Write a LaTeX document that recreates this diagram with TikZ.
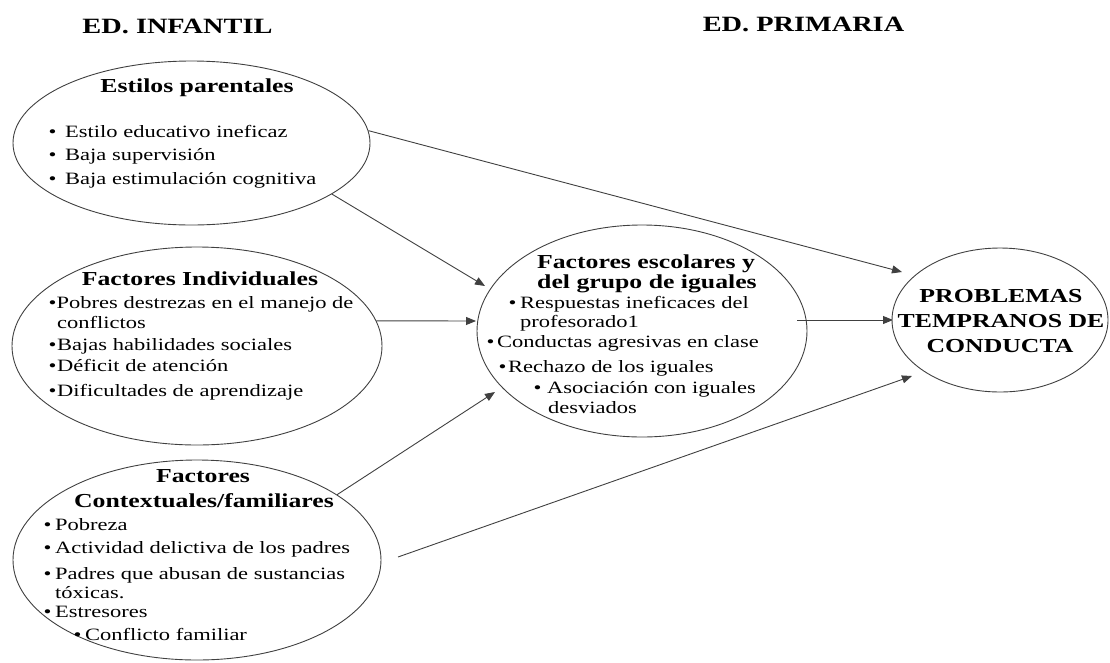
\documentclass[tikz,border=0pt]{standalone}
\usepackage{fontspec}
\setmainfont{Liberation Serif}[FakeStretch=1.3]
\usetikzlibrary{arrows.meta,shapes.geometric}
\newcommand\bul[1]{\makebox[#1pt][l]{\textbullet}}
\tikzset{
  ell/.style={draw=black!75, line width=0.9pt, ellipse, inner sep=0pt},
  conn/.style={draw=black!75, line width=0.9pt, -{Triangle[length=10pt,width=8pt]}},
  hdr/.style={font=\fontsize{21.8}{24}\selectfont\bfseries, anchor=base, inner sep=0pt},
  ttl/.style={font=\fontsize{19.8}{22}\selectfont\bfseries, anchor=base, inner sep=0pt},
  itm/.style={font=\fontsize{17.3}{20}\selectfont, anchor=base west, inner sep=0pt},
}
\begin{document}
\begin{tikzpicture}[x=1pt,y=-1pt]
\useasboundingbox (0,0) rectangle (1110,662);
% headers
\node[hdr] (hinf) at (177.5,33) {ED. INFANTIL};
\node[hdr] (hpri) at (803.5,31) {ED. PRIMARIA};
% ellipses
\node[ell, minimum width=357pt, minimum height=164pt] (ep) at (191.5,143) {};
\node[ell, minimum width=370pt, minimum height=198pt] (fi) at (197,346) {};
\node[ell, minimum width=368pt, minimum height=200pt] (fc) at (197,560) {};
\node[ell, minimum width=330pt, minimum height=212pt] (fe) at (642,331) {};
\node[ell, minimum width=216pt, minimum height=144pt] (pt) at (1000,320) {};
% Estilos parentales
\node[ttl] (ept) at (197,92) {Estilos parentales};
\node[itm] (ep1) at (48.5,137) {\bul{16.5}Estilo educativo ineficaz};
\node[itm] (ep2) at (48.5,160) {\bul{16.5}Baja supervisión};
\node[itm] (ep3) at (48.5,184) {\bul{16.5}Baja estimulación cognitiva};
% Factores individuales
\node[ttl] (fit) at (200,285) {Factores Individuales};
\node[itm] (fi1) at (48.5,308) {\bul{8}Pobres destrezas en el manejo de};
\node[itm] (fi1b) at (57,328) {conflictos};
\node[itm] (fi2) at (48.5,350) {\bul{8.5}Bajas habilidades sociales};
\node[itm] (fi3) at (48.5,371) {\bul{8.5}Déficit de atención};
\node[itm] (fi4) at (48.5,396) {\bul{8.5}Dificultades de aprendizaje};
% Factores contextuales
\node[ttl] (fct1) at (203,482) {Factores};
\node[ttl] (fct2) at (204,507) {Contextuales/familiares};
\node[itm] (fc1) at (43.5,530) {\bul{11.5}Pobreza};
\node[itm] (fc2) at (43.5,553) {\bul{11.5}Actividad delictiva de los padres};
\node[itm] (fc3) at (43.5,579) {\bul{11.5}Padres que abusan de sustancias};
\node[itm] (fc3b) at (55,598) {tóxicas.};
\node[itm] (fc4) at (43.5,617) {\bul{11.5}Estresores};
\node[itm] (fc5) at (73.5,640) {\bul{11.5}Conflicto familiar};
% Factores escolares
\node[ttl] (fet1) at (646,268) {Factores escolares y};
\node[ttl] (fet2) at (647,288) {del grupo de iguales};
\node[itm] (fe1) at (508.5,308) {\bul{11.5}Respuestas ineficaces del};
\node[itm] (fe1b) at (520,327) {profesorado1};
\node[itm] (fe2) at (486.5,347) {\bul{10.5}Conductas agresivas en clase};
\node[itm] (fe3) at (498.5,372) {\bul{9.5}Rechazo de los iguales};
\node[itm] (fe4) at (533.5,393) {\bul{13.5}Asociación con iguales};
\node[itm] (fe4b) at (548,413) {desviados};
% Problemas
\node[ttl] (pt1) at (1001,302) {PROBLEMAS};
\node[ttl] (pt2) at (1001,327) {TEMPRANOS DE};
\node[ttl] (pt3) at (1000,352) {CONDUCTA};
% connector ends
\coordinate (t1) at (902,272);
\coordinate (t2) at (485,286);
\coordinate (t3) at (476,321);
\coordinate (t4) at (495,392);
\coordinate (s5) at (398,557);
\coordinate (t5) at (912,376);
\coordinate (s6) at (797,320);
\coordinate (t6) at (893,320);
% connectors
\draw[conn] (ep.4) -- (t1);
\draw[conn] (ep.-20) -- (t2);
\draw[conn] (fi.8) -- (t3);
\draw[conn] (fc.25) -- (t4);
\draw[conn] (s5) -- (t5);
\draw[conn] (s6) -- (t6);
\end{tikzpicture}
\end{document}
